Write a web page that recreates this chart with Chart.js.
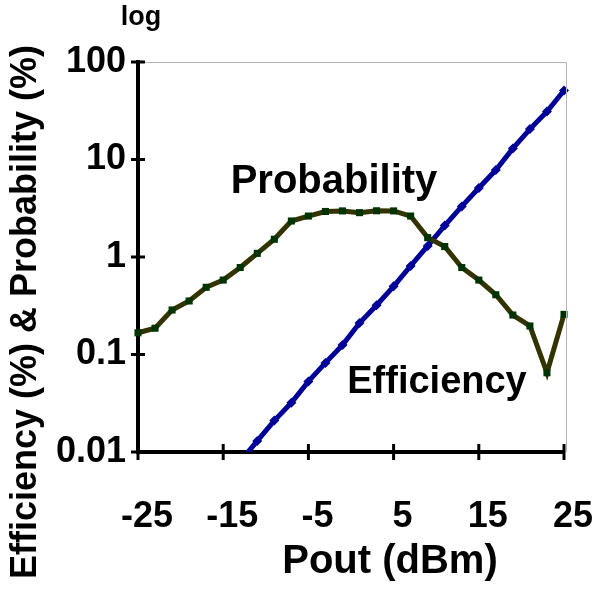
<!DOCTYPE html>
<html>
<head>
<meta charset="utf-8">
<script src="https://cdn.jsdelivr.net/npm/chart.js@4/dist/chart.umd.min.js"></script>
<style>
  body { margin: 0; background: #fff; }
  #wrap { width: 600px; height: 590px; }
</style>
</head>
<body>
<div id="wrap"><canvas id="myChart" width="600" height="590"></canvas></div>
<script>
// Pout (dBm) of the probability points
const pout = [-25, -23, -21, -19, -17, -15, -13, -11, -9, -7, -5, -3, -1, 1, 3, 5, 7, 9, 11, 13, 15, 17, 19, 21, 23, 25]
const probability = [0.167, 0.186, 0.286, 0.354, 0.489, 0.58, 0.78, 1.09, 1.52, 2.34, 2.63, 2.93, 2.97,
  2.85, 2.98, 2.97, 2.63, 1.58, 1.28, 0.78, 0.58, 0.41, 0.254, 0.196, 0.065, 0.258]

// Pout (dBm) of the efficiency points
const effPout = [-13, -11, -9, -7, -5, -3, -1, 1, 3, 5, 7, 9, 11, 13, 15, 17, 19, 21, 23, 25]
const efficiency = [0.008, 0.013, 0.021, 0.032, 0.053, 0.082, 0.125, 0.21, 0.32, 0.5, 0.81, 1.3, 2.1,
  3.3, 5.1, 7.8, 13, 20.5, 31, 51]

const xTicks = [-25, -15, -5, 5, 15, 25]
const yTicks = [0.01, 0.1, 1, 10, 100]
const yTickLabels = ["0.01", "0.1", "1", "10", "100"]

const FONT = "'Liberation Sans', Arial, sans-serif"

function pairs(xs, ys) {
  const out = []
  for (let i = 0; i < xs.length; i++) {
    out.push({ x: xs[i], y: ys[i] })
  }
  return out
}

// tick marks crossing the axes, gray frame and the free texts
const extras = {
  id: "extras",
  afterDraw(chart) {
    const ctx = chart.ctx
    const area = chart.chartArea
    const xs = chart.scales.x
    const ys = chart.scales.y
    ctx.save()
    ctx.strokeStyle = "#b4b4b4"
    ctx.lineWidth = 1
    ctx.beginPath()
    ctx.moveTo(area.left, area.top + 0.5)
    ctx.lineTo(area.right + 2.5, area.top + 0.5)
    ctx.lineTo(area.right + 2.5, area.bottom)
    ctx.stroke()

    ctx.strokeStyle = "#000"
    ctx.lineWidth = 3
    ctx.beginPath()
    ys.ticks.forEach(function (t) {
      const py = ys.getPixelForValue(t.value)
      ctx.moveTo(area.left - 7, py)
      ctx.lineTo(area.left + 7, py)
    })
    xs.ticks.forEach(function (t) {
      const px = xs.getPixelForValue(t.value)
      ctx.moveTo(px, area.bottom - 8)
      ctx.lineTo(px, area.bottom + 8)
    })
    ctx.stroke()

    ctx.fillStyle = "#000"
    ctx.textAlign = "center"
    ctx.textBaseline = "middle"
    ctx.font = "bold 27px " + FONT
    ctx.fillText("log", 141, 18)
    ctx.font = "bold 40px " + FONT
    ctx.fillText("Probability", 334, 182)
    ctx.font = "bold 38px " + FONT
    ctx.fillText("Efficiency", 437, 383)
    ctx.font = "bold 40px " + FONT
    ctx.fillText("Pout (dBm)", 390, 562)
    ctx.translate(26, 312)
    ctx.rotate(-Math.PI / 2)
    ctx.font = "bold 36px " + FONT
    ctx.fillText("Efficiency (%) & Probability (%)", 0, 0)
    ctx.restore()
  },
}

const data = {
  datasets: [
    {
      label: "Probability",
      data: pairs(pout, probability),
      borderColor: "#333300",
      borderWidth: 5,
      backgroundColor: "#003300",
      pointStyle: "rect",
      pointRadius: 5,
      pointBorderWidth: 0,
      tension: 0,
      clip: { left: 10, top: 10, right: 10, bottom: 0 },
    },
    {
      label: "Efficiency",
      data: pairs(effPout, efficiency),
      borderColor: "#000099",
      borderWidth: 5,
      backgroundColor: "#000099",
      pointStyle: "rectRot",
      pointRadius: 5,
      pointBorderWidth: 0,
      tension: 0,
      clip: { left: 0, top: 10, right: 10, bottom: 0 },
    },
  ],
}

const config = {
  type: "line",
  data: data,
  plugins: [extras],
  options: {
    responsive: false,
    animation: false,
    layout: { padding: { top: 62, right: 36, bottom: 0, left: 0 } },
    plugins: { legend: { display: false }, tooltip: { enabled: false } },
    scales: {
      x: {
        type: "linear",
        min: -25,
        max: 25,
        afterBuildTicks: function (scale) {
          scale.ticks = xTicks.map(function (v) { return { value: v } })
        },
        afterFit: function (scale) {
          scale.height = 138
          scale.paddingLeft = 0
          scale.paddingRight = 0
        },
        grid: { display: false },
        border: { display: true, color: "#000", width: 4 },
        ticks: {
          color: "#000",
          padding: 35,
          labelOffset: 9,
          maxRotation: 0,
          font: { family: FONT, size: 36, weight: "bold" },
          callback: function (v) { return String(v) },
        },
      },
      y: {
        type: "logarithmic",
        min: 0.01,
        max: 100,
        afterBuildTicks: function (scale) {
          scale.ticks = yTicks.map(function (v) { return { value: v } })
        },
        afterFit: function (scale) {
          scale.width = 138
          scale.paddingTop = 0
          scale.paddingBottom = 0
        },
        grid: { display: false },
        border: { display: true, color: "#000", width: 4 },
        ticks: {
          color: "#000",
          padding: 4,
          font: { family: FONT, size: 36, weight: "bold" },
          callback: function (v) {
            const i = yTicks.indexOf(v)
            return i >= 0 ? yTickLabels[i] : ""
          },
        },
      },
    },
  },
}

const myChart = new Chart(document.getElementById("myChart"), config)
</script>
</body>
</html>
